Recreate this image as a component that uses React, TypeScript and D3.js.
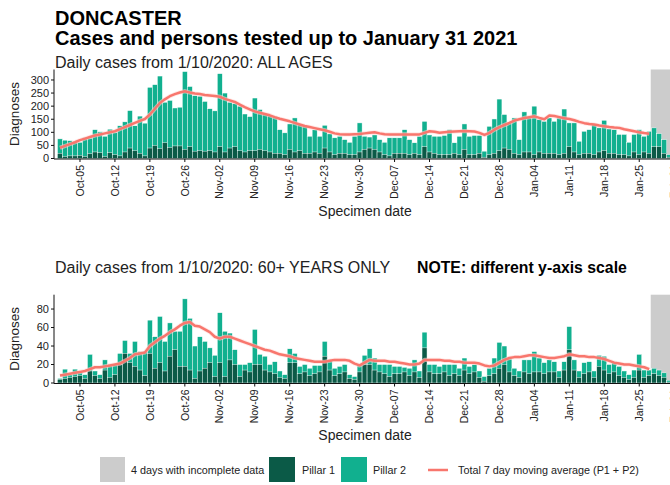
import React from "react";
import * as d3 from "d3";

// ---------- DATA ----------
const startDate = "2020-10-01"; // first specimen date (daily bars through 2021-01-31)
const incompleteDays = 4;

const allTotal = [
  75, 70, 68, 65, 62, 80, 78, 110, 102, 85, 112, 100, 125, 140, 183, 125, 162, 135, 272, 282,
  315, 215, 222, 193, 196, 332, 275, 240, 238, 218, 190, 182, 324, 250, 215, 210, 200, 170, 160, 231,
  187, 168, 165, 160, 110, 98, 132, 155, 130, 125, 85, 110, 85, 127, 94, 79, 85, 72, 62, 85,
  136, 85, 82, 90, 72, 62, 79, 79, 79, 110, 72, 60, 85, 142, 90, 85, 85, 88, 110, 60,
  85, 132, 85, 88, 88, 28, 123, 151, 227, 168, 136, 155, 72, 178, 159, 200, 149, 142, 155, 142,
  155, 189, 136, 136, 66, 104, 110, 130, 117, 146, 113, 110, 92, 92, 62, 92, 110, 85, 104, 117,
  95, 72, 15,
];
const allP1 = [
  20, 8, 10, 10, 12, 8, 18, 25, 22, 8, 22, 15, 10, 25, 40, 30, 20, 10, 40, 50,
  38, 60, 42, 48, 48, 35, 45, 28, 30, 28, 30, 25, 45, 25, 40, 45, 30, 25, 30, 30,
  35, 30, 25, 20, 20, 15, 35, 25, 30, 20, 20, 25, 20, 40, 25, 15, 20, 20, 15, 15,
  25, 35, 40, 35, 25, 15, 10, 20, 20, 20, 15, 20, 15, 45, 25, 20, 15, 15, 15, 20,
  15, 35, 15, 15, 20, 5, 15, 20, 30, 40, 35, 20, 15, 25, 25, 15, 25, 20, 20, 20,
  15, 20, 45, 25, 15, 20, 20, 15, 25, 30, 20, 20, 15, 15, 10, 25, 15, 25, 20, 45,
  45, 20, 5,
];
const allMA = [
  41, 48, 55, 62, 70, 76, 82, 88, 92, 96, 100, 104, 112, 120, 128, 136, 144, 151, 168, 190,
  212, 226, 238, 246, 252, 257, 252, 248, 246, 243, 241, 239, 236, 228, 222, 216, 206, 196, 188, 180,
  175, 170, 165, 158, 152, 147, 142, 136, 130, 124, 120, 116, 112, 108, 102, 96, 93, 92, 92, 93,
  94, 96, 98, 100, 96, 93, 92, 92, 92, 92, 92, 92, 92, 98, 104, 102, 98, 100, 102, 103,
  104, 105, 104, 103, 98, 90, 98, 110, 120, 128, 136, 145, 150, 155, 158, 161, 155, 150, 164, 162,
  158, 154, 151, 146, 140, 135, 132, 130, 126, 123, 120, 118, 117, 112, 108, 104, 100, 97, 95,
];

const oldTotal = [
  5, 15, 9, 15, 11, 9, 31, 13, 9, 25, 20, 20, 32, 46, 32, 45, 34, 34, 68, 50,
  72, 45, 65, 56, 56, 91, 70, 40, 50, 45, 38, 30, 76, 56, 54, 36, 20, 20, 22, 58,
  31, 29, 20, 23, 13, 9, 37, 32, 18, 20, 16, 19, 19, 45, 25, 16, 18, 20, 9, 7,
  20, 30, 37, 27, 20, 20, 20, 18, 18, 17, 16, 25, 13, 55, 20, 20, 18, 20, 20, 20,
  16, 27, 18, 20, 13, 7, 16, 27, 44, 40, 26, 16, 13, 25, 25, 34, 27, 22, 25, 23,
  13, 23, 61, 25, 13, 22, 23, 13, 30, 29, 20, 22, 18, 13, 9, 14, 31, 14, 14, 16,
  14, 11, 3,
];
const oldP1 = [
  4, 5, 6, 7, 8, 5, 13, 8, 5, 14, 6, 9, 20, 32, 22, 18, 14, 8, 32, 16,
  22, 13, 29, 36, 18, 18, 14, 5, 13, 16, 22, 7, 22, 7, 25, 20, 7, 14, 12, 20,
  20, 14, 12, 10, 6, 5, 22, 22, 10, 12, 8, 10, 12, 29, 14, 8, 10, 12, 5, 4,
  12, 20, 20, 14, 12, 10, 7, 10, 10, 12, 8, 12, 6, 38, 12, 10, 10, 12, 8, 10,
  8, 14, 10, 12, 6, 2, 8, 10, 16, 20, 12, 8, 6, 12, 10, 12, 12, 10, 12, 12,
  6, 14, 36, 14, 6, 10, 12, 6, 18, 14, 10, 12, 8, 6, 4, 6, 14, 6, 8, 10,
  8, 6, 1,
];
const oldMA = [
  8, 9, 10, 11, 12, 13, 15, 17, 17, 18, 19, 20, 21, 24, 27, 31, 32, 33, 40, 44,
  48, 51, 55, 58, 62, 65, 66, 62, 61, 58, 55, 50, 48, 50, 50, 48, 46, 44, 42, 40,
  38, 36, 35, 33, 31, 30, 29, 27, 26, 25, 24, 23, 23, 23, 24, 25, 25, 25, 24, 21,
  19, 22, 25, 24, 24, 24, 23, 23, 22, 21, 20, 20, 21, 25, 25, 25, 25, 24, 24, 23,
  23, 22, 22, 22, 21, 19, 18, 19, 22, 25, 27, 28, 28, 29, 30, 30, 29, 28, 27, 27,
  28, 29, 31, 30, 29, 29, 28, 28, 27, 26, 24, 22, 21, 20, 20, 19, 18, 17, 15,
];

const tickLabels = [
  "Oct-05", "Oct-12", "Oct-19", "Oct-26", "Nov-02", "Nov-09", "Nov-16", "Nov-23", "Nov-30",
  "Dec-07", "Dec-14", "Dec-21", "Dec-28", "Jan-04", "Jan-11", "Jan-18", "Jan-25", "Feb-01",
];
const topYTicks = [0, 50, 100, 150, 200, 250, 300];
const bottomYTicks = [0, 20, 40, 60, 80];

// ---------- STYLE ----------
const FONT = "'Liberation Sans', Arial, Helvetica, sans-serif";
const C_P1 = "#0b5a47";
const C_P2 = "#11b08f";
const C_MA = "#f8766d";
const C_GREY = "#cccccc";
const TXT = "#222";

const parse = d3.timeParse("%Y-%m-%d");
const d0 = parse(startDate) as Date;
const dates = allTotal.map((_, i) => d3.timeDay.offset(d0, i));
const lastDate = dates[dates.length - 1];
const tickDates = tickLabels.map((_, i) => d3.timeDay.offset(parse("2020-10-05") as Date, i * 7));

const x = d3.scaleTime().domain([d0, lastDate]).range([60, 669.2]);
const bw = x(dates[1]) - x(dates[0]);

type PanelProps = {
  total: number[];
  p1: number[];
  ma: number[];
  yMax: number;
  y0: number;
  y1: number;
  yTicks: number[];
};

function Panel({ total, p1, ma, yMax, y0, y1, yTicks }: PanelProps) {
  const y = d3.scaleLinear().domain([0, yMax]).range([y0, y1]);
  const greyStart = x(dates[dates.length - incompleteDays]) - bw / 2 - 1;
  const line = d3
    .line<number>()
    .x((_, i) => x(dates[i]))
    .y((v) => y(v))
    .curve(d3.curveLinear);
  const axisX = 54;
  return (
    <g>
      <rect x={greyStart} y={y1} width={700 - greyStart} height={y0 - y1} fill={C_GREY} />
      {total.map((t, i) => {
        const xc = x(dates[i]);
        return (
          <g key={i}>
            <rect x={xc - bw / 2} y={y(t)} width={bw} height={y0 - y(t)} fill={C_P2} stroke="#ffffff" strokeWidth={0.45} />
            <rect x={xc - bw / 2} y={y(p1[i])} width={bw} height={y0 - y(p1[i])} fill={C_P1} stroke="#ffffff" strokeWidth={0.45} />
          </g>
        );
      })}
      <path d={line(ma) || ""} fill="none" stroke="#ffd9d5" strokeWidth={4.2} strokeLinejoin="round" opacity={0.6} />
      <path d={line(ma) || ""} fill="none" stroke={C_MA} strokeWidth={2.5} strokeLinejoin="round" />
      {/* axes */}
      <line x1={axisX} x2={axisX} y1={y1} y2={y0 + 0.5} stroke="#111" strokeWidth={1} />
      <line x1={axisX} x2={700} y1={y0 + 0.5} y2={y0 + 0.5} stroke="#111" strokeWidth={1} />
      {yTicks.map((t) => (
        <g key={t}>
          <line x1={axisX - 3} x2={axisX} y1={y(t)} y2={y(t)} stroke="#111" />
          <text x={axisX - 5} y={y(t)} dy="0.35em" textAnchor="end" fontSize={11} fill={TXT} fontFamily={FONT}>
            {t}
          </text>
        </g>
      ))}
      {tickDates.map((d, i) => (
        <g key={i} transform={`translate(${x(d)},${y0 + 0.5})`}>
          <line y1={0} y2={3} stroke="#111" />
          <text
            transform="rotate(-90)"
            x={-6}
            y={0}
            dy="0.35em"
            textAnchor="end"
            fontSize={10.5}
            fill={TXT}
            fontFamily={FONT}
          >
            {tickLabels[i]}
          </text>
        </g>
      ))}
      <text x={365} y={y0 + 57} textAnchor="middle" fontSize={14} fill={TXT} fontFamily={FONT}>
        Specimen date
      </text>
      <text
        transform={`translate(${19},${(y0 + y1) / 2}) rotate(-90)`}
        textAnchor="middle"
        fontSize={13.5}
        fill={TXT}
        fontFamily={FONT}
      >
        Diagnoses
      </text>
    </g>
  );
}

export default function App() {
  return (
    <svg
      width={670}
      height={485}
      style={{ position: "absolute", left: 0, top: 0, background: "#fff" }}
      fontFamily={FONT}
    >
      <rect x={0} y={0} width={670} height={485} fill="#fff" />
      <text x={55} y={24.5} fontSize={20} fontWeight="bold" fill="#000">DONCASTER</text>
      <text x={55} y={45} fontSize={20} fontWeight="bold" fill="#000">
        Cases and persons tested up to January 31 2021
      </text>
      <text x={55} y={68} fontSize={16} fill={TXT}>Daily cases from 1/10/2020: ALL AGES</text>
      <text x={55} y={272.5} fontSize={16} fill={TXT}>Daily cases from 1/10/2020: 60+ YEARS ONLY</text>
      <text x={417} y={272.5} fontSize={15.8} fontWeight="bold" fill="#000">NOTE: different y-axis scale</text>

      <Panel total={allTotal} p1={allP1} ma={allMA} yMax={340} y0={158.5} y1={69.5} yTicks={topYTicks} />
      <Panel total={oldTotal} p1={oldP1} ma={oldMA} yMax={95.5} y0={383} y1={294.7} yTicks={bottomYTicks} />

      {/* legend */}
      <g fontFamily={FONT} fontSize={10.8} fill={TXT}>
        <rect x={100} y={457} width={25} height={25} fill={C_GREY} />
        <text x={131} y={470} dy="0.35em">4 days with incomplete data</text>
        <rect x={269} y={457} width={26} height={25} fill={C_P1} />
        <text x={302} y={470} dy="0.35em">Pillar 1</text>
        <rect x={341} y={457} width={26} height={25} fill={C_P2} />
        <text x={373} y={470} dy="0.35em">Pillar 2</text>
        <line x1={428} x2={448} y1={470} y2={470} stroke={C_MA} strokeWidth={2.5} />
        <text x={458} y={470} dy="0.35em">Total 7 day moving average (P1 + P2)</text>
      </g>
    </svg>
  );
}
